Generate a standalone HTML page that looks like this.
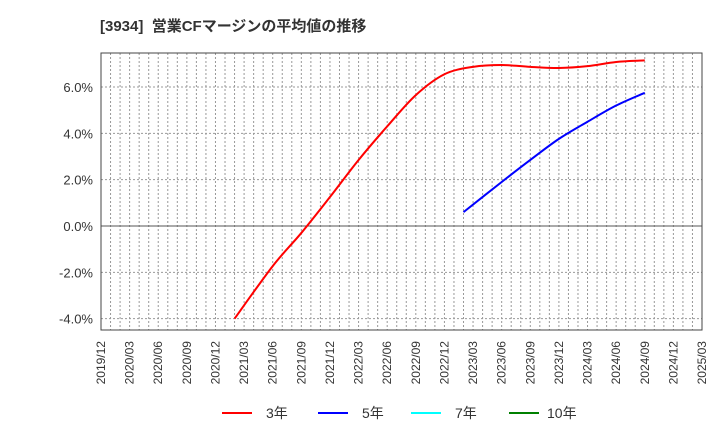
<!DOCTYPE html>
<html><head><meta charset="utf-8"><style>
body{margin:0;background:#fff;width:720px;height:440px;overflow:hidden;font-family:"Liberation Sans","Noto Sans CJK JP",sans-serif}
</style></head><body>
<svg width="720" height="440" xmlns="http://www.w3.org/2000/svg" font-family="Liberation Sans, Noto Sans CJK JP, sans-serif">
<text x="100" y="31" font-size="15" font-weight="bold" fill="#333" xml:space="preserve" style="white-space:pre">[3934]  営業CFマージンの平均値の推移</text>
<g id="grid"></g>
<g id="axes"></g>
<g id="series"></g>
<g font-size="14" fill="#333">
<g><line x1="222" y1="413" x2="252" y2="413" stroke="#ff0000" stroke-width="2"/><text x="266" y="418">3年</text></g>
<g><line x1="318" y1="413" x2="348" y2="413" stroke="#0000ff" stroke-width="2"/><text x="362" y="418">5年</text></g>
<g><line x1="411" y1="413" x2="441" y2="413" stroke="#00ffff" stroke-width="2"/><text x="455" y="418">7年</text></g>
<g><line x1="509" y1="413" x2="539" y2="413" stroke="#008000" stroke-width="2"/><text x="547" y="418">10年</text></g>
</g>
</svg>
<script>
// months since 2019/12
const xTickLabels=["2019/12","2020/03","2020/06","2020/09","2020/12","2021/03","2021/06","2021/09","2021/12","2022/03","2022/06","2022/09","2022/12","2023/03","2023/06","2023/09","2023/12","2024/03","2024/06","2024/09","2024/12","2025/03"];
const yTicks=[-4,-2,0,2,4,6];
const red3Months=[14,18,21,24,27,30,33,36,39,42,45,48,51,54,57];
const red3Values=[-4.0,-1.73,-0.3,1.25,2.85,4.3,5.65,6.55,6.87,6.95,6.87,6.82,6.9,7.08,7.15];
const blue5Months=[38,42,45,48,51,54,57];
const blue5Values=[0.6,1.9,2.85,3.76,4.5,5.2,5.75];
const L=101,R=702,T=53,B=330,NM=63;
const xs=m=>L+(R-L)*m/NM;
const ys=v=>226-v*(226-87)/6;
const NS="http://www.w3.org/2000/svg";
function mk(t,a,p){const e=document.createElementNS(NS,t);for(const k in a)e.setAttribute(k,a[k]);p.appendChild(e);return e;}
const grid=document.getElementById('grid'),axes=document.getElementById('axes'),ser=document.getElementById('series');
for(let m=1;m<NM;m++){const l=mk('line',{x1:xs(m),y1:T,x2:xs(m),y2:B,stroke:'#999','stroke-dasharray':'2,2','stroke-width':1},grid);

}
yTicks.forEach(v=>{const y=ys(v);
const l=mk('line',{x1:L,y1:y,x2:R,y2:y,stroke:v===0?'#555':'#999','stroke-dasharray':v===0?'none':'2,2','stroke-width':1},grid);


const t=mk('text',{x:L-8,y:y+5,'text-anchor':'end','font-size':13,fill:'#333'},axes);t.textContent=v.toFixed(1)+'%';

});
xTickLabels.forEach((s,i)=>{const x=xs(i*3);
const t=mk('text',{x:0,y:0,transform:`translate(${x+4},341) rotate(-90)`,'text-anchor':'end','font-size':12,fill:'#333'},axes);t.textContent=s;

});
const fr=mk('rect',{x:L,y:T,width:R-L,height:B-T,fill:'none',stroke:'#444','stroke-width':1},axes);


function smooth(ms,vs){const p=ms.map((m,i)=>[xs(m),ys(vs[i])]);let d=`M${p[0][0]},${p[0][1]}`;
for(let i=0;i<p.length-1;i++){const p0=p[i-1]||p[i],p1=p[i],p2=p[i+1],p3=p[i+2]||p2;
d+=` C${p1[0]+(p2[0]-p0[0])/6},${p1[1]+(p2[1]-p0[1])/6} ${p2[0]-(p3[0]-p1[0])/6},${p2[1]-(p3[1]-p1[1])/6} ${p2[0]},${p2[1]}`;}return d;}
const r=mk('path',{d:smooth(red3Months,red3Values),fill:'none',stroke:'#ff0000','stroke-width':2},ser);


const b=mk('path',{d:smooth(blue5Months,blue5Values),fill:'none',stroke:'#0000ff','stroke-width':2},ser);


</script>
</body></html>
